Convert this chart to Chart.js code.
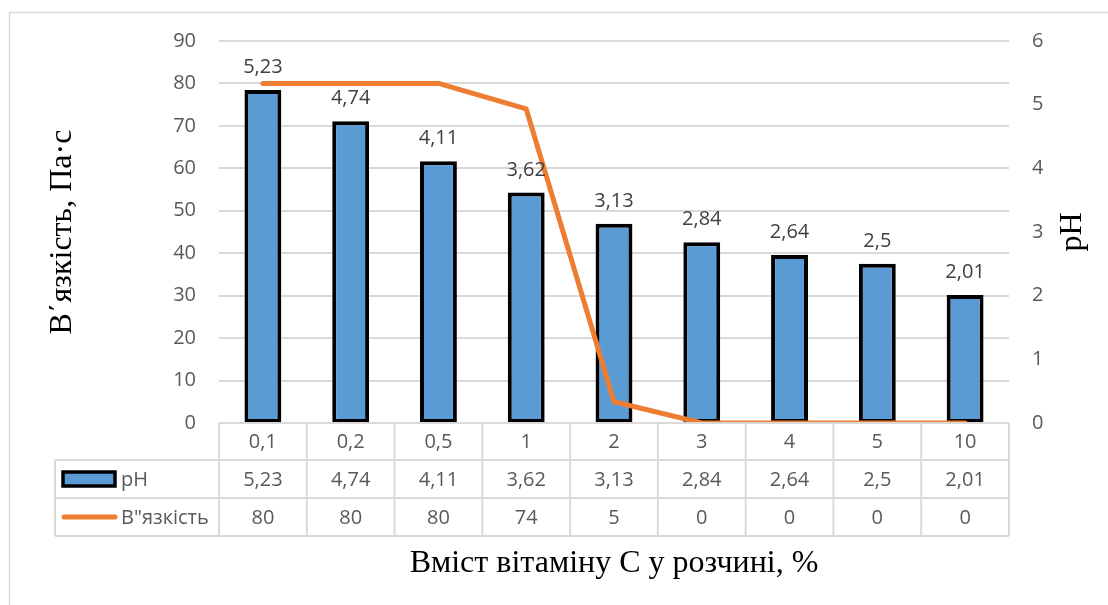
<!DOCTYPE html>
<html>
<head>
<meta charset="utf-8">
<script src="https://cdn.jsdelivr.net/npm/chart.js@4/dist/chart.umd.min.js"></script>
<style>
  html, body { margin: 0; padding: 0; background: #fff; }
  #wrap { position: relative; width: 1108px; height: 605px; }
</style>
</head>
<body>
<div id="wrap"><canvas id="c" width="1108" height="605"></canvas></div>
<script>
// ---- data ----
const categories = ['0,1', '0,2', '0,5', '1', '2', '3', '4', '5', '10'];
const phValues = [5.23, 4.74, 4.11, 3.62, 3.13, 2.84, 2.64, 2.5, 2.01];
const viscosityValues = [80, 80, 80, 74, 5, 0, 0, 0, 0];
const phLabel = 'pH';
const viscosityLabel = 'В"язкість';
const leftTitle = 'В΄язкість, Па·с';
const rightTitle = 'pH';
const xTitle = 'Вміст вітаміну С у розчині, %';

const fmt = v => String(v).replace('.', ',');
const LABEL_FAMILY = '"Open Sans", Calibri, Carlito, sans-serif';
const LABEL_FONT = '20px ' + LABEL_FAMILY;
const TITLE_FAMILY = '"Liberation Serif", "Times New Roman", serif';

const decorPlugin = {
  id: 'decor',
  beforeDraw(chart) {
    const ctx = chart.ctx;
    ctx.save();
    ctx.strokeStyle = '#d9d9d9';
    ctx.lineWidth = 1.5;
    ctx.strokeRect(9.5, 12.5, 1300, 700);
    ctx.restore();
  },
  afterDatasetsDraw(chart) {
    const ctx = chart.ctx;
    const meta = chart.getDatasetMeta(0);
    ctx.save();
    ctx.font = LABEL_FONT;
    ctx.fillStyle = '#404040';
    ctx.textAlign = 'center';
    ctx.textBaseline = 'alphabetic';
    meta.data.forEach((el, i) => {
      ctx.fillText(fmt(phValues[i]), el.x, el.y - 17);
    });
    ctx.restore();
  },
  afterDraw(chart) {
    const ctx = chart.ctx;
    const xs = chart.scales.x;
    const area = chart.chartArea;
    const step = xs.getPixelForValue(1) - xs.getPixelForValue(0);
    const top = area.bottom;
    const r1 = top + 37, r2 = r1 + 38, r3 = r2 + 38;
    const legLeft = 55;
    ctx.save();
    ctx.strokeStyle = '#d9d9d9';
    ctx.lineWidth = 2;
    ctx.beginPath();
    ctx.moveTo(area.left, top); ctx.lineTo(area.right, top);
    [r1, r2, r3].forEach(y => { ctx.moveTo(legLeft, y); ctx.lineTo(area.right, y); });
    ctx.moveTo(legLeft, r1); ctx.lineTo(legLeft, r3);
    for (let i = 0; i <= categories.length; i++) {
      const x = xs.getPixelForValue(0) - step / 2 + i * step;
      ctx.moveTo(x, top); ctx.lineTo(x, r3);
    }
    ctx.stroke();

    ctx.font = LABEL_FONT;
    ctx.fillStyle = '#595959';
    ctx.textAlign = 'center';
    ctx.textBaseline = 'middle';
    categories.forEach((c, i) => {
      const x = xs.getPixelForValue(i);
      ctx.fillText(c, x, (top + r1) / 2 + 1);
      ctx.fillText(fmt(phValues[i]), x, (r1 + r2) / 2 + 1);
      ctx.fillText(fmt(viscosityValues[i]), x, (r2 + r3) / 2 + 1);
    });

    // legend keys
    const y1 = (r1 + r2) / 2, y2 = (r2 + r3) / 2;
    ctx.fillStyle = '#5B9BD5';
    ctx.fillRect(63, y1 - 7, 52, 14);
    ctx.strokeStyle = '#000';
    ctx.lineWidth = 3.5;
    ctx.strokeRect(63, y1 - 7, 52, 14);
    ctx.strokeStyle = '#ED7D31';
    ctx.lineWidth = 5;
    ctx.lineCap = 'round';
    ctx.beginPath();
    ctx.moveTo(64, y2); ctx.lineTo(115, y2);
    ctx.stroke();
    ctx.fillStyle = '#595959';
    ctx.textAlign = 'left';
    ctx.fillText(phLabel, 121, y1 + 1);
    ctx.fillText(viscosityLabel, 121, y2 + 1);

    // right axis title (reads bottom-to-top)
    ctx.save();
    ctx.translate(1073, (area.top + area.bottom) / 2);
    ctx.rotate(-Math.PI / 2);
    ctx.font = '32px ' + TITLE_FAMILY;
    ctx.fillStyle = '#000';
    ctx.textAlign = 'center';
    ctx.textBaseline = 'middle';
    ctx.fillText(rightTitle, 0, 0);
    ctx.restore();
    ctx.restore();
  }
};

new Chart(document.getElementById('c'), {
  data: {
    labels: categories,
    datasets: [
      {
        type: 'bar',
        label: phLabel,
        data: phValues,
        yAxisID: 'y1',
        backgroundColor: '#5B9BD5',
        borderColor: '#000000',
        borderWidth: 4,
        borderSkipped: false,
        categoryPercentage: 1,
        barPercentage: 0.42,
        order: 1
      },
      {
        type: 'line',
        label: viscosityLabel,
        data: viscosityValues,
        yAxisID: 'y',
        borderColor: '#ED7D31',
        backgroundColor: '#ED7D31',
        borderWidth: 5,
        borderCapStyle: 'round',
        borderJoinStyle: 'round',
        pointRadius: 0,
        tension: 0,
        order: 0
      }
    ]
  },
  options: {
    responsive: false,
    animation: false,
    layout: { padding: { left: 10, right: 0, top: 41, bottom: 0 } },
    plugins: {
      legend: { display: false },
      tooltip: { enabled: false },
      title: { display: false }
    },
    scales: {
      x: {
        type: 'category',
        display: true,
        offset: true,
        ticks: { display: false },
        grid: { display: false, drawTicks: false },
        border: { display: false },
        title: {
          display: true,
          text: xTitle,
          color: '#000',
          font: { family: TITLE_FAMILY, size: 32, weight: 'normal', lineHeight: 1.2 },
          padding: { top: 121.6, bottom: 22 }
        }
      },
      y: {
        position: 'left',
        min: 0, max: 90,
        ticks: { stepSize: 10, padding: 23, color: '#595959', font: { family: LABEL_FAMILY, size: 20 } },
        grid: { color: '#d9d9d9', lineWidth: 2, drawTicks: false },
        border: { display: false },
        title: {
          display: true, text: leftTitle, color: '#000',
          font: { family: TITLE_FAMILY, size: 32, lineHeight: 1.2 },
          padding: { top: 33, bottom: 0 }
        },
        afterFit: s => { s.width = 209; }
      },
      y1: {
        position: 'right',
        min: 0, max: 6,
        ticks: { stepSize: 1, padding: 23, color: '#595959', font: { family: LABEL_FAMILY, size: 20 } },
        grid: { display: false, drawTicks: false },
        border: { display: false },
        afterFit: s => { s.width = 99; }
      }
    }
  },
  plugins: [decorPlugin]
});
</script>
</body>
</html>
